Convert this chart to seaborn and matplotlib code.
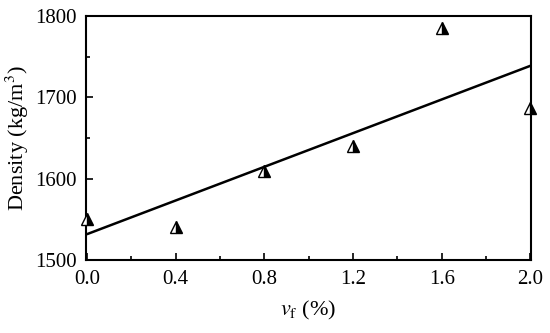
import matplotlib
matplotlib.use("Agg")
import matplotlib.pyplot as plt
from matplotlib.ticker import MultipleLocator
import seaborn as sns
import pandas as pd

# Fibre volume fraction (%) and measured density (kg/m3)
vf = [0.0, 0.4, 0.8, 1.2, 1.6, 2.0]
density = [1550, 1541, 1609, 1640, 1785, 1687]

df = pd.DataFrame({"vf": vf, "density": density})

sns.set_theme(style="ticks")
plt.rcParams["font.family"] = ["Liberation Serif", "DejaVu Serif"]
plt.rcParams["mathtext.fontset"] = "stix"

fig = plt.figure(figsize=(5.5, 3.33), dpi=100)
ax = fig.add_axes([0.1564, 0.219, 0.8091, 0.733])

# linear fit line across the data range
sns.regplot(data=df, x="vf", y="density", ax=ax, scatter=False, ci=None,
            truncate=True, color="black", line_kws={"linewidth": 1.8})

# half-filled triangles (right half black)
ax.plot(df["vf"], df["density"], linestyle="none", marker="^", markersize=8,
        fillstyle="right", markerfacecolor="black", markerfacecoloralt="white",
        markeredgecolor="black", markeredgewidth=1.0, clip_on=False, zorder=5)

ax.set_xlim(-0.005, 2.003)
ax.set_ylim(1500, 1800)
ax.xaxis.set_major_locator(MultipleLocator(0.4))
ax.xaxis.set_minor_locator(MultipleLocator(0.2))
ax.yaxis.set_major_locator(MultipleLocator(100))
ax.yaxis.set_minor_locator(MultipleLocator(50))
ax.xaxis.set_major_formatter(plt.FormatStrFormatter("%.1f"))

ax.tick_params(which="both", direction="in", top=False, right=False,
               color="black", width=1.2, labelsize=15, labelcolor="black")
ax.tick_params(which="major", length=5)
ax.tick_params(which="minor", length=3)
ax.tick_params(axis="y", which="major", pad=6.5)
ax.tick_params(axis="x", which="major", pad=7.5)

for s in ax.spines.values():
    s.set_color("black")
    s.set_linewidth(1.5)

ax.set_xlabel(r"$v_\mathrm{f}$ (%)", fontsize=16, color="black", labelpad=7)
ax.set_ylabel(r"Density (kg/m$^3$)", fontsize=16, color="black", labelpad=3)

fig.savefig("out.png", dpi=100)
